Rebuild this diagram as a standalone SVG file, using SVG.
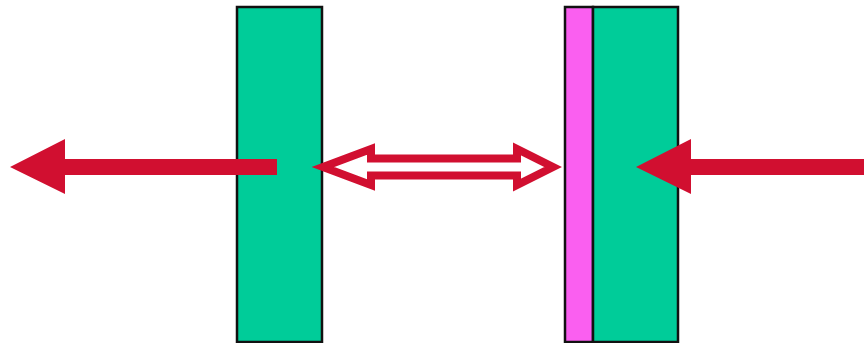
<svg xmlns="http://www.w3.org/2000/svg" width="864" height="343" viewBox="0 0 864 343">
<style>
.slab{stroke:#111;stroke-width:2.5}
.green{fill:#00cc99}
.pink{fill:#fa5ff0}
.arrow{fill:#d10f30}
.outline{fill:#fff;stroke:#d10f30;stroke-width:8;stroke-linejoin:miter;stroke-miterlimit:6}
</style>
<g id="left-slab"><rect class="slab green" x="237" y="7" width="85" height="335"/></g>
<g id="pink-layer"><rect class="slab pink" x="565" y="7" width="28" height="335"/></g>
<g id="right-slab"><rect class="slab green" x="593" y="7" width="85" height="335"/></g>
<g id="connectors">
<polygon class="arrow" points="277,159 65,159 65,139 10,167 65,194 65,175 277,175"/>
<polygon class="arrow" points="864,159 691,159 691,139 636,167 691,194 691,175 864,175"/>
<polygon class="outline" points="323,167 371,149 371,158.5 517,158.5 517,149 553,167 517,185 517,175.5 371,175.5 371,185"/>
</g>
</svg>
